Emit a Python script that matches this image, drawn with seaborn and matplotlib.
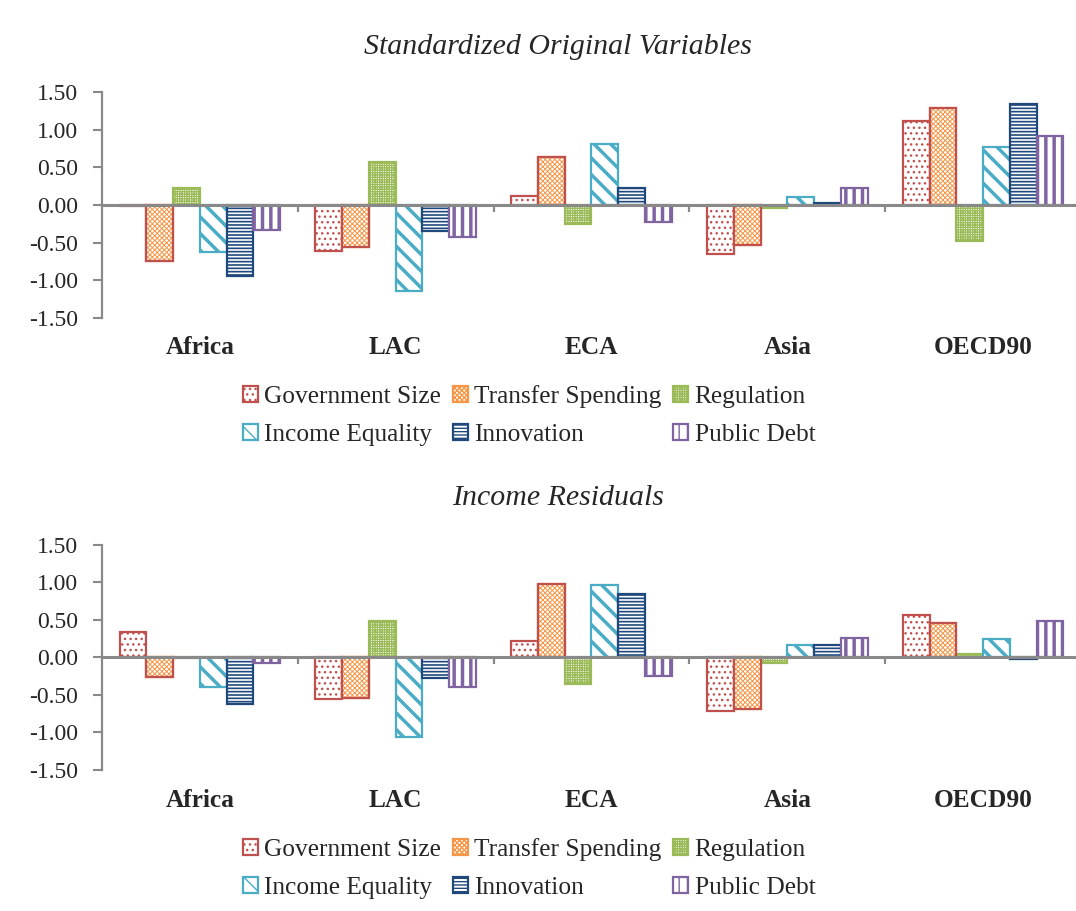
import numpy as np
import pandas as pd
import matplotlib
matplotlib.use("Agg")
import matplotlib.pyplot as plt
import matplotlib.patches as mpatches
from matplotlib.patches import Rectangle
from matplotlib.transforms import blended_transform_factory
import seaborn as sns

regions = ["Africa", "LAC", "ECA", "Asia", "OECD90"]
variables = ["Government Size", "Transfer Spending", "Regulation",
             "Income Equality", "Innovation", "Public Debt"]

# Standardized original variables (one value per region)
orig_gov_size = [-0.01, -0.61, 0.12, -0.65, 1.12]
orig_transfer = [-0.74, -0.56, 0.64, -0.53, 1.29]
orig_regulation = [0.23, 0.57, -0.25, -0.04, -0.48]
orig_income_eq = [-0.62, -1.14, 0.81, 0.11, 0.77]
orig_innovation = [-0.94, -0.35, 0.22, 0.02, 1.34]
orig_public_debt = [-0.33, -0.42, -0.23, 0.22, 0.92]

# Income residuals (one value per region)
resid_gov_size = [0.34, -0.56, 0.22, -0.72, 0.56]
resid_transfer = [-0.26, -0.54, 0.98, -0.69, 0.46]
resid_regulation = [-0.01, 0.49, -0.35, -0.07, 0.05]
resid_income_eq = [-0.39, -1.06, 0.96, 0.16, 0.25]
resid_innovation = [-0.62, -0.28, 0.85, 0.16, -0.02]
resid_public_debt = [-0.08, -0.40, -0.25, 0.26, 0.49]

y_ticks = [-1.5, -1.0, -0.5, 0.0, 0.5, 1.0, 1.5]

# edge colour, hatch colour, hatch pattern, hatch line width
styles = {
    "Government Size": ("#C0504D", "#C0504D", "...", 1.0),
    "Transfer Spending": ("#C0504D", "#F79646", "xxxxxxx", 0.7),
    "Regulation": ("#9BBB59", "#9BBB59", "+++++++", 0.9),
    "Income Equality": ("#4BACC6", "#4BACC6", "\\\\", 2.5),
    "Innovation": ("#1F497D", "#1F497D", "-----", 1.2),
    "Public Debt": ("#8064A2", "#8064A2", "||", 2.5),
}

GREY = "#898989"

sns.set_style("white")
plt.rcParams["font.family"] = ["Liberation Serif", "DejaVu Serif"]
plt.rcParams["axes.unicode_minus"] = False


def long_frame(series):
    rows = []
    for var, vals in zip(variables, series):
        for reg, v in zip(regions, vals):
            rows.append({"Region": reg, "Variable": var, "Value": v})
    return pd.DataFrame(rows)


def set_hatch_lw(patch, lw):
    if hasattr(patch, "set_hatch_linewidth"):
        patch.set_hatch_linewidth(lw)


def draw_panel(ax, df):
    sns.barplot(data=df, x="Region", y="Value", hue="Variable",
                order=regions, hue_order=variables, width=0.82, gap=0,
                dodge=True, legend=False, errorbar=None, ax=ax)
    for var, cont in zip(variables, ax.containers):
        edge, hcol, hatch, hlw = styles[var]
        for bar in cont:
            bar.set_facecolor("white")
            bar.set_edgecolor(hcol)
            bar.set_hatch(hatch)
            bar.set_linewidth(1.6)
            set_hatch_lw(bar, hlw)
            if edge != hcol:
                outline = Rectangle(bar.get_xy(), bar.get_width(), bar.get_height(),
                                    fill=False, edgecolor=edge, linewidth=1.6,
                                    zorder=bar.get_zorder() + 0.1)
                ax.add_patch(outline)

    ax.set_xlim(-0.5, 4.5)
    ax.set_ylim(-1.5, 1.5)
    ax.set_yticks(y_ticks)
    ax.set_yticklabels([f"{v:.2f}" for v in y_ticks], fontsize=17)
    ax.set_xticks(range(len(regions)))
    ax.set_xticklabels([""] * len(regions))
    ax.set_xticks([i + 0.5 for i in range(len(regions) - 1)], minor=True)
    ax.set_xlabel("")
    ax.set_ylabel("")

    for side in ["top", "right"]:
        ax.spines[side].set_visible(False)
    ax.spines["left"].set_color(GREY)
    ax.spines["left"].set_linewidth(1.6)
    ax.spines["bottom"].set_color(GREY)
    ax.spines["bottom"].set_linewidth(2.2)
    ax.spines["bottom"].set_position(("data", 0))
    ax.spines["bottom"].set_zorder(5)

    ax.tick_params(axis="y", direction="out", length=6.5, width=1.5,
                   color=GREY, pad=11, left=True)
    ax.tick_params(axis="x", which="major", length=0)
    ax.tick_params(axis="x", which="minor", direction="out", length=5,
                   width=1.6, color=GREY, bottom=True)

    trans = blended_transform_factory(ax.transData, ax.transAxes)
    for i, reg in enumerate(regions):
        ax.text(i, -0.134, reg, transform=trans, ha="center", va="center",
                fontsize=18.3, fontweight="bold")


def legend_handles():
    handles = []
    for var in variables:
        edge, hcol, hatch, hlw = styles[var]
        p = mpatches.Patch(facecolor="white", edgecolor=hcol, hatch=hatch,
                           linewidth=1.6, label=var)
        set_hatch_lw(p, hlw)
        handles.append(p)
    return handles


def add_legend(fig, y):
    h = legend_handles()
    order = [0, 3, 1, 4, 2, 5]
    fig.legend([h[i] for i in order], [variables[i] for i in order],
               loc="center", bbox_to_anchor=(0.4916, y), ncol=3,
               frameon=False, fontsize=18.3, handlelength=0.6, handleheight=0.6,
               handletextpad=0.25, columnspacing=0.45, labelspacing=0.62,
               borderpad=0)


fig = plt.figure(figsize=(10.76, 9.11), dpi=100)
ax1 = fig.add_axes([0.0948, 0.6513, 0.9098, 0.2474])
ax2 = fig.add_axes([0.0948, 0.1548, 0.9098, 0.2470])

orig_df = long_frame([orig_gov_size, orig_transfer, orig_regulation,
                      orig_income_eq, orig_innovation, orig_public_debt])
resid_df = long_frame([resid_gov_size, resid_transfer, resid_regulation,
                       resid_income_eq, resid_innovation, resid_public_debt])

draw_panel(ax1, orig_df)
draw_panel(ax2, resid_df)

fig.text(0.5186, 0.948, "Standardized Original Variables", ha="center",
         va="center", fontsize=21.5, style="italic")
fig.text(0.5186, 0.4533, "Income Residuals", ha="center",
         va="center", fontsize=21.5, style="italic")

add_legend(fig, 0.544)
add_legend(fig, 0.047)

fig.savefig("out.png", dpi=100)
